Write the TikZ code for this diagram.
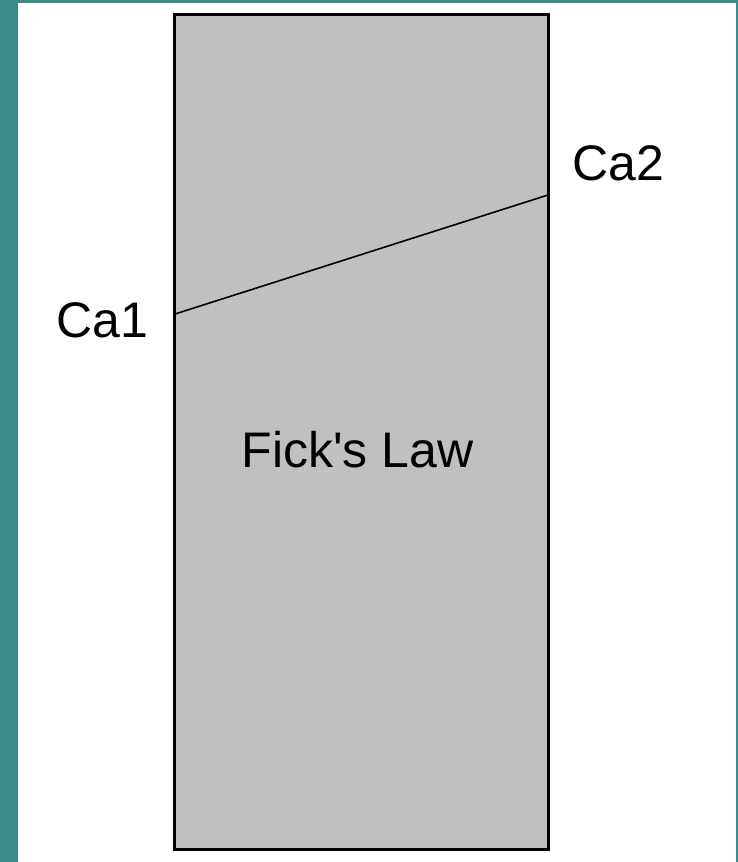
\documentclass[tikz,border=0pt]{standalone}
\usepackage{fontspec}
\setmainfont{Liberation Sans}
\definecolor{slide}{HTML}{3B8B88}
\definecolor{slabfill}{HTML}{C0C0C0}
\tikzset{
  px/.style={x=1pt, y=-1pt},
  slab/.style={draw, fill=slabfill, line width=3pt, inner sep=0pt,
               minimum width=374pt, minimum height=835pt},
  conc/.style={font=\fontsize{50}{50}\selectfont, anchor=base, inner sep=0pt},
  profile/.style={line width=1.6pt},
}

\begin{document}
\begin{tikzpicture}[px]
    % slide backdrop and white panel
    \fill[slide] (0,0) rectangle (738,862);
    \fill[white] (18,3) rectangle (736,862);
    \useasboundingbox (0,0) rectangle (738,862);
    % membrane
    \node[slab] (slab) at (361.5,432) {};
    \coordinate (c1) at (175,314);
    \coordinate (c2) at (548,195);
    \draw[profile] (c1) -- (c2);
    \node[conc] (ca1) at (102.5,337) {Ca1};
    \node[conc] (ca2) at (618,180) {Ca2};
    \node[conc] (law) at (357.5,467) {Fick\textquotesingle s Law};
  \end{tikzpicture}
\end{document}
